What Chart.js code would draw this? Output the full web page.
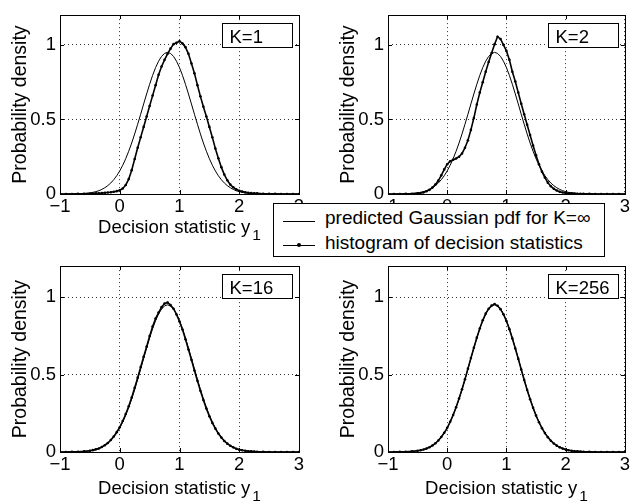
<!DOCTYPE html>
<html>
<head>
<meta charset="utf-8">
<script src="https://cdn.jsdelivr.net/npm/chart.js@4.4.1/dist/chart.umd.min.js"></script>
<style>
  body { margin: 0; background: #fff; }
  #wrap { position: relative; width: 632px; height: 502px; font-family: "Liberation Sans", Arial, sans-serif; }
  .panel { position: absolute; width: 316px; height: 251px; }
  #legend {
    position: absolute; left: 273px; top: 203px; width: 332px; height: 54px;
    box-sizing: border-box; border: 1px solid #000; background: #fff;
  }
  #legend .txt { position: absolute; left: 51px; font-size: 19px; line-height: 20px; color: #000; white-space: nowrap; }
  #legend .ln { position: absolute; left: 9px; width: 32px; height: 0; border-top: 1px solid #000; }
  #legend .dot { position: absolute; left: 23px; width: 4px; height: 4px; border-radius: 2px; background: #000; }
</style>
</head>
<body>
<div id="wrap">
  <div class="panel" style="left:0;top:0"><canvas id="k1" width="316" height="251"></canvas></div>
  <div class="panel" style="left:316px;top:0"><canvas id="k2" width="316" height="251"></canvas></div>
  <div class="panel" style="left:0;top:251px"><canvas id="k16" width="316" height="251"></canvas></div>
  <div class="panel" style="left:316px;top:251px"><canvas id="k256" width="316" height="251"></canvas></div>
  <div id="legend">
    <div class="ln" style="top:17px"></div>
    <div class="txt" style="top:4px">predicted Gaussian pdf for K=∞</div>
    <div class="ln" style="top:41px;border-top-width:1.5px"></div>
    <div class="dot" style="top:39px"></div>
    <div class="txt" style="top:29px">histogram of decision statistics</div>
  </div>
</div>
<script>
// decision statistic bins (shared by every panel)
const xs = [-1, -0.9, -0.8, -0.7, -0.6, -0.5, -0.45, -0.4, -0.35, -0.3, -0.25, -0.2, -0.15, -0.1, -0.05,
  0, 0.05, 0.1, 0.15, 0.2, 0.25, 0.3, 0.35, 0.4, 0.45, 0.5, 0.55, 0.6, 0.65, 0.7, 0.75, 0.8, 0.85, 0.9, 0.95,
  1, 1.05, 1.1, 1.15, 1.2, 1.25, 1.3, 1.35, 1.4, 1.45, 1.5, 1.55, 1.6, 1.65, 1.7, 1.75, 1.8, 1.85, 1.9, 1.95,
  2, 2.05, 2.1, 2.15, 2.2, 2.25, 2.3, 2.4, 2.5, 2.6, 2.7, 2.8, 2.9, 3];

// predicted Gaussian pdf for K=inf
const gaussPdf = [0.0001, 0.0003, 0.0007, 0.0016, 0.0037, 0.0079, 0.011, 0.016, 0.022, 0.031, 0.042, 0.056, 0.074, 0.096, 0.123,
  0.155, 0.193, 0.237, 0.287, 0.342, 0.403, 0.468, 0.535, 0.604, 0.671, 0.736, 0.796, 0.848, 0.891, 0.923, 0.943, 0.95, 0.943, 0.923, 0.891,
  0.848, 0.796, 0.736, 0.671, 0.604, 0.535, 0.468, 0.403, 0.342, 0.287, 0.237, 0.193, 0.155, 0.123, 0.096, 0.074, 0.056, 0.042, 0.031, 0.022,
  0.016, 0.011, 0.008, 0.005, 0.004, 0.002, 0.002, 0.001, 0.0003, 0.0001, 0, 0, 0, 0];

// histograms of decision statistics
const histK1 = [0, 0, 0, 0.001, 0.001, 0.002, 0.003, 0.004, 0.005, 0.006, 0.008, 0.01, 0.012, 0.015, 0.019,
  0.025, 0.037, 0.06, 0.1, 0.16, 0.235, 0.31, 0.38, 0.45, 0.52, 0.59, 0.66, 0.73, 0.8, 0.855, 0.9, 0.94, 0.975, 1.005, 1.015,
  1.025, 1.01, 0.985, 0.94, 0.875, 0.81, 0.73, 0.655, 0.585, 0.52, 0.45, 0.38, 0.305, 0.24, 0.18, 0.13, 0.092, 0.063, 0.045, 0.031,
  0.022, 0.016, 0.011, 0.008, 0.006, 0.005, 0.004, 0.002, 0.001, 0.001, 0, 0, 0, 0];

const histK2 = [0, 0, 0, 0.001, 0.002, 0.004, 0.007, 0.011, 0.018, 0.028, 0.043, 0.063, 0.09, 0.125, 0.165,
  0.2, 0.22, 0.23, 0.238, 0.25, 0.272, 0.31, 0.36, 0.43, 0.51, 0.6, 0.68, 0.75, 0.82, 0.885, 0.945, 1.005, 1.055, 1.04, 1.0,
  0.96, 0.9, 0.82, 0.755, 0.68, 0.605, 0.535, 0.465, 0.395, 0.325, 0.26, 0.2, 0.15, 0.11, 0.076, 0.052, 0.035, 0.023, 0.015, 0.01,
  0.007, 0.005, 0.004, 0.003, 0.002, 0.002, 0.001, 0.001, 0, 0, 0, 0, 0, 0];

const histK16 = [0, 0, 0.001, 0.002, 0.004, 0.008, 0.012, 0.017, 0.023, 0.032, 0.044, 0.058, 0.077, 0.1, 0.128,
  0.16, 0.2, 0.245, 0.295, 0.352, 0.415, 0.48, 0.548, 0.615, 0.68, 0.748, 0.81, 0.862, 0.9, 0.935, 0.958, 0.965, 0.948, 0.925, 0.888,
  0.842, 0.79, 0.728, 0.662, 0.595, 0.526, 0.46, 0.395, 0.335, 0.28, 0.231, 0.188, 0.151, 0.119, 0.093, 0.071, 0.054, 0.04, 0.03, 0.021,
  0.015, 0.011, 0.008, 0.005, 0.004, 0.003, 0.002, 0.001, 0, 0, 0, 0, 0, 0];

const histK256 = [0, 0, 0.001, 0.002, 0.004, 0.008, 0.011, 0.016, 0.022, 0.031, 0.042, 0.056, 0.074, 0.097, 0.124,
  0.156, 0.195, 0.239, 0.289, 0.345, 0.405, 0.47, 0.538, 0.606, 0.673, 0.738, 0.797, 0.85, 0.893, 0.925, 0.945, 0.955, 0.944, 0.922, 0.889,
  0.845, 0.793, 0.733, 0.668, 0.601, 0.532, 0.465, 0.4, 0.34, 0.285, 0.235, 0.192, 0.154, 0.122, 0.095, 0.073, 0.055, 0.041, 0.03, 0.022,
  0.016, 0.011, 0.008, 0.005, 0.004, 0.003, 0.002, 0.001, 0, 0, 0, 0, 0, 0];

const xTicks = [-1, 0, 1, 2, 3];
const yTicks = [0, 0.5, 1];
const panelLabels = ['K=1', 'K=2', 'K=16', 'K=256'];

const FONT = '"Liberation Sans", Arial, Helvetica, sans-serif';

// box, inward ticks, K label and x title with subscript
const framePlugin = {
  id: 'frame',
  afterDraw(chart) {
    const {ctx, chartArea: ca, scales} = chart;
    const opts = chart.options.plugins.frame;
    ctx.save();
    ctx.strokeStyle = '#000';
    ctx.lineWidth = 1;
    ctx.strokeRect(Math.round(ca.left) + 0.5, Math.round(ca.top) + 0.5,
      Math.round(ca.right - ca.left), Math.round(ca.bottom - ca.top));
    ctx.beginPath();
    xTicks.forEach(v => {
      const px = Math.round(scales.x.getPixelForValue(v)) + 0.5;
      ctx.moveTo(px, ca.bottom); ctx.lineTo(px, ca.bottom - 4);
      ctx.moveTo(px, ca.top); ctx.lineTo(px, ca.top + 4);
    });
    yTicks.forEach(v => {
      const py = Math.round(scales.y.getPixelForValue(v)) + 0.5;
      ctx.moveTo(ca.left, py); ctx.lineTo(ca.left + 4, py);
      ctx.moveTo(ca.right, py); ctx.lineTo(ca.right - 4, py);
    });
    ctx.stroke();

    // K label box
    const bx = Math.round(ca.right - 77) + 0.5, by = Math.round(ca.top + 8) + 0.5;
    ctx.fillStyle = '#fff';
    ctx.fillRect(bx, by, 70, 24);
    ctx.strokeRect(bx, by, 70, 24);
    ctx.fillStyle = '#000';
    ctx.font = '18.5px ' + FONT;
    ctx.textBaseline = 'alphabetic';
    ctx.textAlign = 'left';
    ctx.fillText(opts.label, bx + 7, by + 19);

    // x axis title: Decision statistic y_1
    const main = 'Decision statistic y', sub = '1';
    ctx.font = '18.5px ' + FONT;
    const wMain = ctx.measureText(main).width;
    ctx.font = '15.5px ' + FONT;
    const wSub = ctx.measureText(sub).width;
    const x0 = (ca.left + ca.right) / 2 - (wMain + wSub + 2) / 2;
    ctx.font = '18.5px ' + FONT;
    ctx.fillText(main, x0, ca.bottom + opts.titleY);
    ctx.font = '15.5px ' + FONT;
    ctx.fillText(sub, x0 + wMain + 2, ca.bottom + opts.titleY + 7);
    ctx.restore();
  }
};

function fmt(v) {
  return v < 0 ? '\u2212' + Math.abs(v) : String(v);
}

function makePanel(id, label, hist, pad, xAxisH, titleY) {
  const gauss = xs.map((x, i) => ({x: x, y: gaussPdf[i]}));
  const histPts = xs.map((x, i) => ({x: x, y: hist[i]}));
  return new Chart(document.getElementById(id), {
    type: 'line',
    data: {
      datasets: [
        {
          label: 'predicted Gaussian pdf for K=\u221e',
          data: gauss,
          borderColor: '#000',
          borderWidth: 1,
          pointRadius: 0,
          tension: 0
        },
        {
          label: 'histogram of decision statistics',
          data: histPts,
          borderColor: '#000',
          borderWidth: 1.6,
          pointRadius: 1.3,
          pointBackgroundColor: '#000',
          pointBorderWidth: 0,
          tension: 0
        }
      ]
    },
    options: {
      responsive: false,
      animation: false,
      events: [],
      layout: {padding: pad},
      plugins: {
        legend: {display: false},
        tooltip: {enabled: false},
        frame: {label: label, titleY: titleY}
      },
      scales: {
        x: {
          type: 'linear',
          min: -1,
          max: 3,
          afterBuildTicks: s => { s.ticks = xTicks.map(v => ({value: v})); },
          afterFit: s => { s.height = xAxisH; },
          ticks: {
            color: '#000',
            padding: 2,
            font: {family: FONT, size: 18.5},
            callback: v => fmt(v)
          },
          grid: {color: '#333', lineWidth: 1, drawTicks: false},
          border: {display: false, dash: [1, 3]}
        },
        y: {
          min: 0,
          max: 1.2,
          afterBuildTicks: s => { s.ticks = yTicks.map(v => ({value: v})); },
          afterFit: s => { s.width = 60; },
          ticks: {
            color: '#000',
            padding: 4,
            font: {family: FONT, size: 18.5},
            callback: v => fmt(v)
          },
          grid: {color: '#333', lineWidth: 1, drawTicks: false},
          border: {display: false, dash: [1, 3]},
          title: {
            display: true,
            text: 'Probability density',
            color: '#000',
            font: {family: FONT, size: 19.5},
            padding: {top: 9, bottom: 0}
          }
        }
      }
    },
    plugins: [framePlugin]
  });
}

makePanel('k1', panelLabels[0], histK1, {left: 0, top: 5, right: 17, bottom: 0}, 57, 39);
makePanel('k2', panelLabels[1], histK2, {left: 12, top: 5, right: 6, bottom: 0}, 57, 39);
makePanel('k16', panelLabels[2], histK16, {left: 0, top: 12, right: 17, bottom: 0}, 50, 42);
makePanel('k256', panelLabels[3], histK256, {left: 12, top: 12, right: 6, bottom: 0}, 50, 42);
</script>
</body>
</html>
